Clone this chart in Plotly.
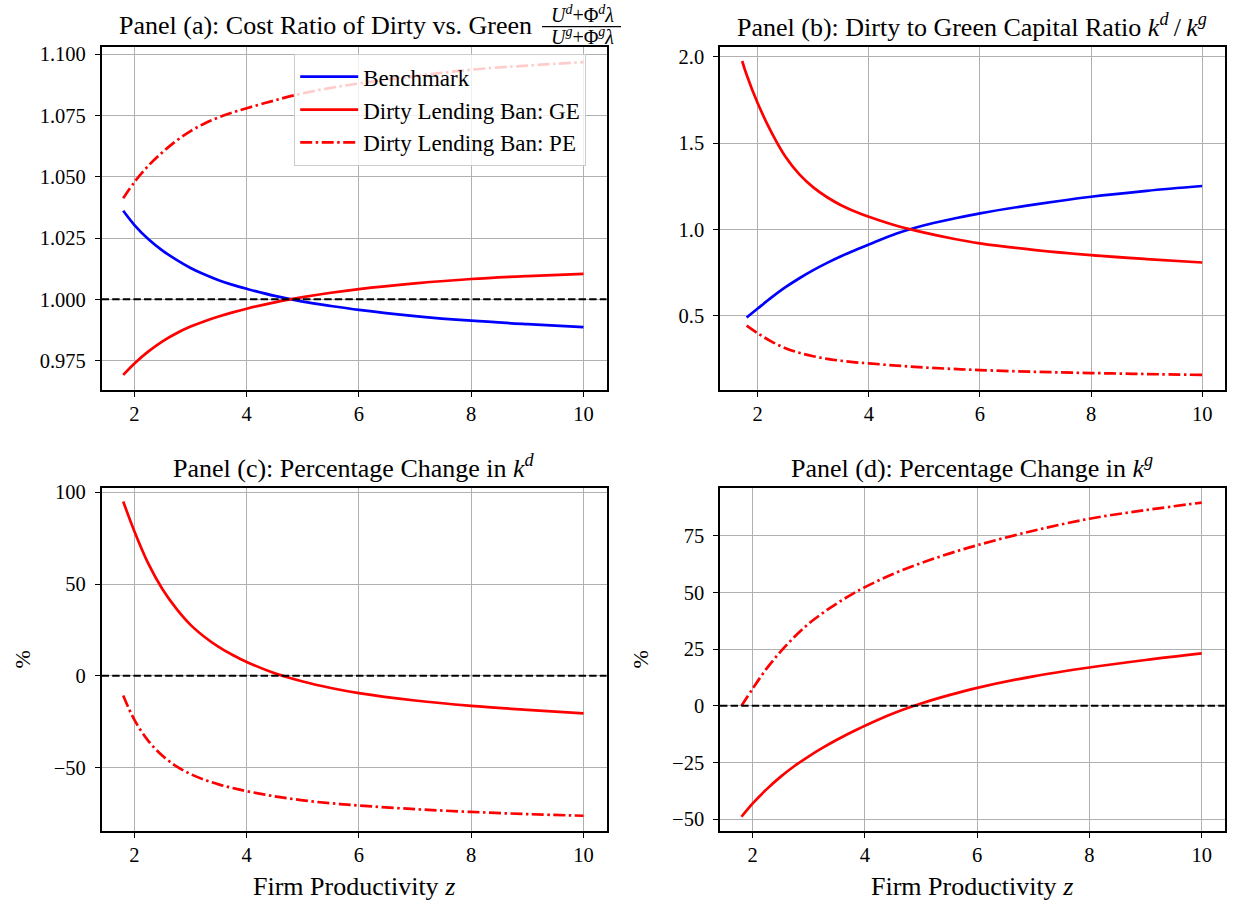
import plotly.graph_objects as go

# ---- data: firm productivity grid and model outcomes ----
Z = [1.8, 2.0, 2.25, 2.5, 2.75, 3.0, 3.25, 3.5, 3.75, 4.0, 4.5, 5.0, 5.5, 6.0, 7.0, 8.0, 9.0, 10.0]
Z_RATIO_GE = [1.72, 1.8, 2.0, 2.25, 2.5, 2.75, 3.0, 3.25, 3.5, 3.75, 4.0, 4.5, 5.0, 5.5, 6.0,
              7.0, 8.0, 9.0, 10.0]

# Panel (a): cost ratio of dirty vs. green
COST_BENCH = [1.0361, 1.0303, 1.0245, 1.0199, 1.0161, 1.0128, 1.0101, 1.0078, 1.0059, 1.0043,
              1.0014, 0.9991, 0.9973, 0.9957, 0.9932, 0.9913, 0.9899, 0.9887]
COST_GE = [0.9692, 0.9739, 0.9788, 0.9829, 0.9862, 0.9889, 0.9911, 0.9930, 0.9947, 0.9962,
           0.9988, 1.0009, 1.0027, 1.0042, 1.0065, 1.0083, 1.0095, 1.0104]
COST_PE = [1.0412, 1.0478, 1.0545, 1.0600, 1.0647, 1.0686, 1.0717, 1.0742, 1.0762, 1.0779,
           1.0811, 1.0840, 1.0862, 1.0880, 1.0910, 1.0936, 1.0953, 1.0967]

# Panel (b): dirty to green capital ratio
RATIO_BENCH = [0.490, 0.542, 0.606, 0.665, 0.717, 0.764, 0.806, 0.844, 0.879, 0.912,
               0.976, 1.024, 1.060, 1.093, 1.145, 1.189, 1.223, 1.251]
RATIO_GE = [1.975, 1.895, 1.730, 1.560, 1.420, 1.318, 1.243, 1.186, 1.140, 1.104, 1.073,
            1.021, 0.981, 0.947, 0.919, 0.880, 0.851, 0.828, 0.808]
RATIO_PE = [0.442, 0.398, 0.350, 0.312, 0.285, 0.265, 0.250, 0.239, 0.230, 0.224,
            0.211, 0.200, 0.192, 0.185, 0.175, 0.168, 0.162, 0.157]

# Panel (c): percentage change in dirty capital
KD_GE = [95.0, 78.7, 61.0, 47.2, 36.5, 27.8, 21.2, 15.8, 11.4, 7.6,
         1.4, -3.1, -6.6, -9.4, -13.4, -16.3, -18.5, -20.4]
KD_PE = [-10.7, -24.0, -35.5, -43.5, -49.3, -53.5, -56.6, -59.1, -61.1, -62.8,
         -65.6, -67.8, -69.4, -70.6, -72.6, -74.1, -75.3, -76.2]

# Panel (d): percentage change in green capital
KG_GE = [-49.0, -43.1, -36.8, -31.3, -26.5, -22.3, -18.5, -15.0, -11.8, -8.8,
         -3.4, 1.0, 4.7, 7.9, 13.0, 16.9, 20.2, 23.1]
KG_PE = [0.0, 7.6, 16.5, 24.0, 30.6, 36.3, 41.0, 45.2, 49.0, 52.4,
         58.2, 63.0, 67.2, 70.9, 77.3, 82.6, 86.4, 89.7]

# tick labels
X_TICKS = [2, 4, 6, 8, 10]
A_TICKS = [0.975, 1.000, 1.025, 1.050, 1.075, 1.100]
B_TICKS = [0.5, 1.0, 1.5, 2.0]
C_TICKS = [-50, 0, 50, 100]
D_TICKS = [-50, -25, 0, 25, 50, 75]

W, H = 1239, 903
FONT = "Liberation Serif"
BLUE, RED = "#0000ff", "#ff0000"
DASHDOT = "12px,3.5px,2.5px,3.5px"
LW = 2.7


def px(x):
    return x / W


def py(y):
    return 1 - y / H


fig = go.Figure()


def add_line(x, y, axis, color, dash, name=None, group=None):
    fig.add_trace(go.Scatter(
        x=x, y=y, mode="lines", xaxis="x" + axis, yaxis="y" + axis,
        line=dict(color=color, width=LW, dash=dash, shape="spline", smoothing=1.0),
        name=name, showlegend=name is not None, legendgroup=group,
        hoverinfo="skip"))


# panel (a)
add_line(Z, COST_BENCH, "", BLUE, "solid", "Benchmark", "g1")
add_line(Z, COST_GE, "", RED, "solid", "Dirty Lending Ban: GE", "g2")
add_line(Z, COST_PE, "", RED, DASHDOT, "Dirty Lending Ban: PE", "g3")
# panel (b)
add_line(Z, RATIO_BENCH, "2", BLUE, "solid")
add_line(Z_RATIO_GE, RATIO_GE, "2", RED, "solid")
add_line(Z, RATIO_PE, "2", RED, DASHDOT)
# panel (c)
add_line(Z, KD_GE, "3", RED, "solid")
add_line(Z, KD_PE, "3", RED, DASHDOT)
# panel (d)
add_line(Z, KG_GE, "4", RED, "solid")
add_line(Z, KG_PE, "4", RED, DASHDOT)

# axes boxes in pixels: (left, right, top, bottom)
boxes = {
    "": (101.6, 606.5, 46.7, 390.0),
    "2": (720.0, 1224.7, 47.3, 390.0),
    "3": (101.6, 606.5, 487.7, 831.0),
    "4": (720.0, 1224.7, 487.7, 831.0),
}
x_ranges = {"": [1.415, 10.41], "2": [1.321, 10.405], "3": [1.415, 10.41], "4": [1.417, 10.41]}
y_ranges = {"": [0.96306, 1.10298], "2": [0.0697, 2.0544], "3": [-84.5, 102.5], "4": [-55.3, 96.3]}
y_ticks = {"": (A_TICKS, ".3f"), "2": (B_TICKS, ".1f"), "3": (C_TICKS, "d"), "4": (D_TICKS, "d")}

axis_style = dict(
    showline=True, mirror=True, linecolor="black", linewidth=1.5,
    ticks="outside", ticklen=5, tickwidth=1.2, tickcolor="black",
    showgrid=True, gridcolor="#b0b0b0", gridwidth=1.1, zeroline=False,
    tickfont=dict(family=FONT, size=20.5, color="black"), automargin=False,
)

layout = {}
for key, (l, r, t, b) in boxes.items():
    tv, fmt = y_ticks[key]
    layout["xaxis" + key] = dict(domain=[px(l), px(r)], range=x_ranges[key], anchor="y" + key,
                                 tickmode="array", tickvals=X_TICKS, **axis_style)
    layout["yaxis" + key] = dict(domain=[py(b), py(t)], range=y_ranges[key], anchor="x" + key,
                                 tickmode="array", tickvals=tv, tickformat=fmt,
                                 ticklabelstandoff=5, **axis_style)

fig.update_layout(**layout)

# reference lines at parity / zero change
shapes = []
for key, yv in (("", 1.0), ("3", 0.0), ("4", 0.0)):
    shapes.append(dict(type="line", xref=("x" + key) + " domain", yref="y" + key,
                       x0=0, x1=1, y0=yv, y1=yv, layer="above",
                       line=dict(color="black", width=2, dash="7.4px,3.2px")))
# fraction bar in the panel (a) title
shapes.append(dict(type="line", xref="paper", yref="paper",
                   x0=px(542), x1=px(621), y0=py(26.7), y1=py(26.7),
                   line=dict(color="black", width=1.2)))

TF = dict(family=FONT, size=26, color="black")
FF = dict(family=FONT, size=20, color="black")
annotations = [
    dict(text="Panel (a): Cost Ratio of Dirty vs. Green", x=px(534), y=py(25),
         xanchor="right", yanchor="middle", font=TF),
    dict(text="<i>U</i><sup><i>d</i></sup>+Φ<sup><i>d</i></sup><i>λ</i>", x=px(582), y=py(14),
         xanchor="center", yanchor="middle", font=FF),
    dict(text="<i>U</i><sup><i>g</i></sup>+Φ<sup><i>g</i></sup><i>λ</i>", x=px(582), y=py(36),
         xanchor="center", yanchor="middle", font=FF),
    dict(text="Panel (b): Dirty to Green Capital Ratio <i>k</i><sup><i>d</i></sup>\u2009/\u2009<i>k</i><sup><i>g</i></sup>",
         x=px(972.4), y=py(25), xanchor="center", yanchor="middle", font=TF),
    dict(text="Panel (c): Percentage Change in <i>k</i><sup><i>d</i></sup>",
         x=px(353.8), y=py(466), xanchor="center", yanchor="middle", font=TF),
    dict(text="Panel (d): Percentage Change in <i>k</i><sup><i>g</i></sup>",
         x=px(972.4), y=py(466), xanchor="center", yanchor="middle", font=TF),
    dict(text="Firm Productivity <i>z</i>", x=px(353.8), y=py(886),
         xanchor="center", yanchor="middle", font=TF),
    dict(text="Firm Productivity <i>z</i>", x=px(972.4), y=py(886),
         xanchor="center", yanchor="middle", font=TF),
    dict(text="%", x=px(22), y=py(659.4), textangle=-90,
         xanchor="center", yanchor="middle", font=dict(family=FONT, size=22, color="black")),
    dict(text="%", x=px(640), y=py(659.4), textangle=-90,
         xanchor="center", yanchor="middle", font=dict(family=FONT, size=22, color="black")),
]
for a in annotations:
    a.update(xref="paper", yref="paper", showarrow=False)

fig.update_layout(
    width=W, height=H, margin=dict(l=0, r=0, t=0, b=0),
    paper_bgcolor="white", plot_bgcolor="white",
    font=dict(family=FONT, color="black"),
    shapes=shapes, annotations=annotations,
    legend=dict(x=px(294), y=py(54), xanchor="left", yanchor="top",
                bgcolor="rgba(255,255,255,0.8)", bordercolor="#cccccc", borderwidth=1.2,
                font=dict(family=FONT, size=23, color="black"),
                itemwidth=58, tracegroupgap=0),
)

fig.write_html("out.html")
